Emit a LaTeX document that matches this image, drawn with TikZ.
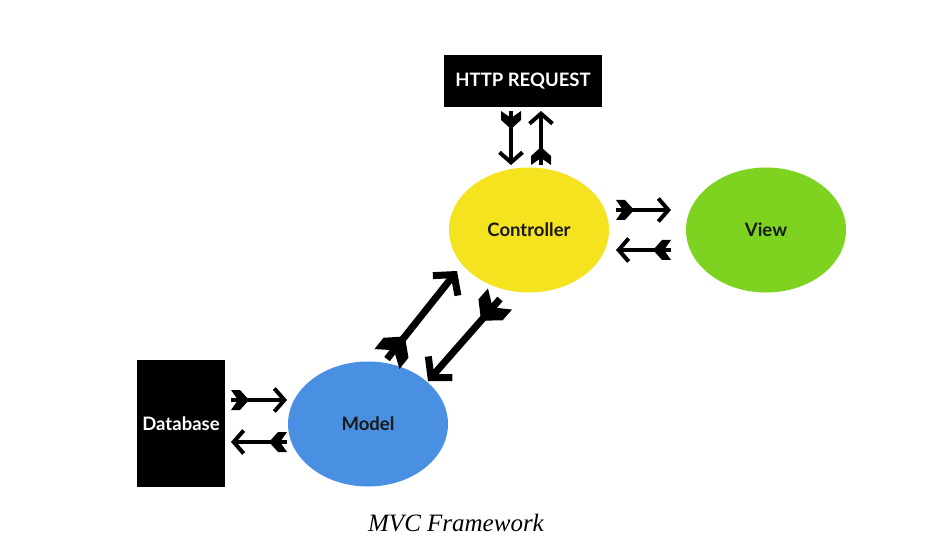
\documentclass[tikz,border=0pt]{standalone}
\usepackage{fontspec}
\setmainfont{Liberation Serif}
\newfontfamily\labelfont{Lato}
\usetikzlibrary{arrows.meta,shapes.geometric}
\definecolor{ctrlyellow}{HTML}{F5E31F}
\definecolor{viewgreen}{HTML}{7ED321}
\definecolor{modelblue}{HTML}{4A90E2}
\tikzset{
  blackbox/.style={fill=black, draw=none, text=white, font=\labelfont\bfseries\fontsize{18.5}{22}\selectfont, inner sep=0pt},
  mvcnode/.style={ellipse, minimum width=160pt, minimum height=125pt, draw=none, font=\labelfont\bfseries\fontsize{18.5}{22}\selectfont, text=black!90},
  fletch/.pic={\fill[black] (0,-10) -- (9,-10) -- (18,0) -- (9,10) -- (0,10) -- (7,0) -- cycle;},
  flowarrow/.style={line width=4pt, -{Straight Barb[length=10pt, width=23pt, line width=4pt]}},
  bigarrow/.style={line width=7pt, -{Straight Barb[length=14pt, width=32pt, line width=7pt]}},
  fletchat/.style={pos=0, sloped, allow upside down}
}
\begin{document}
\begin{tikzpicture}[x=1pt, y=-1pt]
\useasboundingbox (0,0) rectangle (940,548);
\fill[white] (0,0) rectangle (940,548);
% nodes
\node[blackbox, minimum width=158pt, minimum height=52pt] (http) at (523,81) {HTTP REQUEST};
\node[mvcnode, fill=ctrlyellow] (ctrl) at (529,230) {Controller};
\node[mvcnode, fill=viewgreen] (view) at (766,230) {View};
\node[mvcnode, fill=modelblue] (model) at (368,424) {Model};
\node[blackbox, minimum width=88pt, minimum height=127pt] (db) at (181,423.5) {Database};
\node[font=\itshape\fontsize{25}{29}\selectfont] (cap) at (456,523) {MVC Framework};
% arrow endpoints
\coordinate (h1a) at (511,111);
\coordinate (h1b) at (511,165);
\coordinate (h2a) at (541,165);
\coordinate (h2b) at (541,111);
\coordinate (cv1a) at (616,210);
\coordinate (cv1b) at (671,210);
\coordinate (cv2a) at (671,250);
\coordinate (cv2b) at (616,250);
\coordinate (mc1a) at (387,359);
\coordinate (mc1b) at (457,271);
\coordinate (mc2a) at (500,299);
\coordinate (mc2b) at (428,381);
\coordinate (dm1a) at (231,400);
\coordinate (dm1b) at (287,400);
\coordinate (dm2a) at (287,442);
\coordinate (dm2b) at (231,442);
% connectors
\draw[flowarrow] (h1a) -- (h1b) pic[fletchat] {fletch};
\draw[flowarrow] (h2a) -- (h2b) pic[fletchat] {fletch};
\draw[flowarrow] (cv1a) -- (cv1b) pic[fletchat] {fletch};
\draw[flowarrow] (cv2a) -- (cv2b) pic[fletchat] {fletch};
\draw[bigarrow] (mc1a) -- (mc1b) pic[fletchat, scale=1.6] {fletch};
\draw[bigarrow] (mc2a) -- (mc2b) pic[fletchat, scale=1.6] {fletch};
\draw[flowarrow] (dm1a) -- (dm1b) pic[fletchat] {fletch};
\draw[flowarrow] (dm2a) -- (dm2b) pic[fletchat] {fletch};
\end{tikzpicture}
\end{document}
